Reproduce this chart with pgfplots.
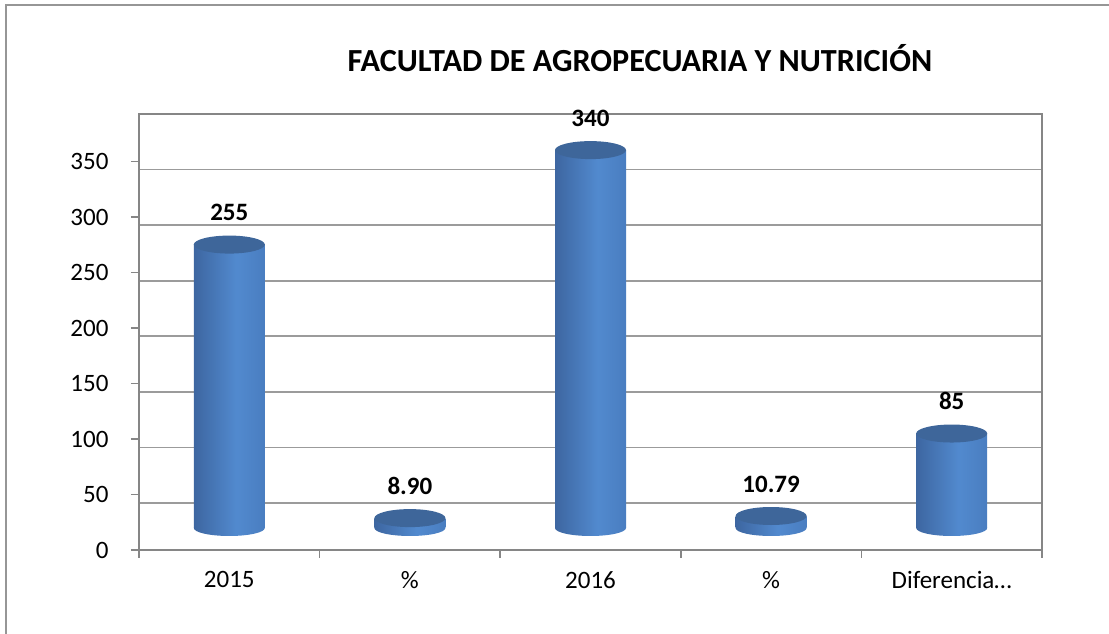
\documentclass[border=0pt]{standalone}
\usepackage{pgfplots}
\pgfplotsset{compat=1.18}
\usepackage{fontspec}
\setmainfont{Carlito}
\definecolor{axgray}{RGB}{134,134,134}
\definecolor{gridgray}{RGB}{155,155,155}
\definecolor{framegray}{RGB}{150,150,150}
\definecolor{topblue}{RGB}{62,102,154}
\pgfdeclarehorizontalshading{cyl}{100bp}{rgb(0bp)=(0.13,0.21,0.34); rgb(25bp)=(0.24,0.40,0.63); rgb(55bp)=(0.32,0.54,0.81); rgb(80bp)=(0.28,0.48,0.74); rgb(100bp)=(0.21,0.37,0.60)}
\pgfdeclareplotmark{cylbot}{%
  \pgfpathellipse{\pgfpointorigin}{\pgfqpoint{35.5pt}{0pt}}{\pgfqpoint{0pt}{8pt}}%
  \pgfshadepath{cyl}{0}\pgfusepath{discard}}
\pgfdeclareplotmark{cyltop}{%
  \pgfpathellipse{\pgfpointorigin}{\pgfqpoint{35.5pt}{0pt}}{\pgfqpoint{0pt}{9pt}}%
  \pgfusepathqfill}
\pgfplotsset{cylbody/.style={ybar, bar width=71pt, bar shift=0pt, draw=none, shade, shading=cyl}}
\begin{document}
\begin{tikzpicture}
\useasboundingbox (0,0) rectangle (1109pt,634pt);
\draw[framegray, line width=2pt] (6pt,0) -- (6pt,629pt) -- (1109pt,629pt);
\node[font=\bfseries\fontsize{32.2}{40}\selectfont, anchor=base] at (640pt,562pt) {FACULTAD DE AGROPECUARIA Y NUTRICIÓN};
% back wall grid
\begin{axis}[
  at={(139pt,131pt)}, anchor=south west, scale only axis,
  width=903pt, height=389pt,
  xmin=-0.5, xmax=4.5, ymin=0, ymax=350,
  axis line style={draw=none}, xtick=\empty,
  ytick={0,50,...,300}, yticklabels={}, major tick length=0pt,
  ymajorgrids, grid style={gridgray, line width=1.8pt},
]
\end{axis}
% front axis
\begin{axis}[
  at={(139pt,84pt)}, anchor=south west, scale only axis,
  width=903pt, height=436pt,
  xmin=-0.5, xmax=4.5, ymin=0, ymax=392.8,
  axis line style={axgray, line width=1.6pt},
  tick style={axgray, line width=1.6pt},
  tick align=outside, xtick pos=bottom, ytick pos=left,
  major tick length=8pt,
  ytick={0,50,...,350},
  xtick={-0.5,0.5,...,4.5}, xticklabels={},
  extra x ticks={0,1,2,3,4},
  extra x tick labels={2015,\%,2016,\%,Diferencia…},
  extra x tick style={major tick length=0pt, tick style={draw=none}},
  /pgf/number format/assume math mode=true,
  tick label style={font=\fontsize{25}{30}\selectfont},
  yticklabel style={font=\fontsize{25}{30}\selectfont, xshift=-19pt},
  xticklabel style={font=\fontsize{25}{30}\selectfont, yshift=-18pt},
]
\end{axis}
% cylinders
\begin{axis}[
  at={(139pt,106pt)}, anchor=south west, scale only axis,
  width=903pt, height=389pt,
  xmin=-0.5, xmax=4.5, ymin=0, ymax=350,
  hide axis, clip=false,
]
\addplot[only marks, mark=cylbot] coordinates {(0,0) (1,0) (2,0) (3,0) (4,0)};
\addplot[cylbody] coordinates {(0,255)};
\addplot[cylbody] coordinates {(1,8.90)};
\addplot[cylbody] coordinates {(2,340)};
\addplot[cylbody] coordinates {(3,10.79)};
\addplot[cylbody] coordinates {(4,85)};
\addplot[only marks, mark=cyltop, mark options={fill=topblue, draw=none},
  point meta=explicit symbolic, nodes near coords,
  every node near coord/.append style={font=\bfseries\fontsize{25}{30}\selectfont, anchor=south, yshift=20pt}]
  coordinates {(0,255)[255] (1,8.90)[8.90] (2,340)[340] (3,10.79)[10.79] (4,85)[85]};
\end{axis}
\end{tikzpicture}
\end{document}
